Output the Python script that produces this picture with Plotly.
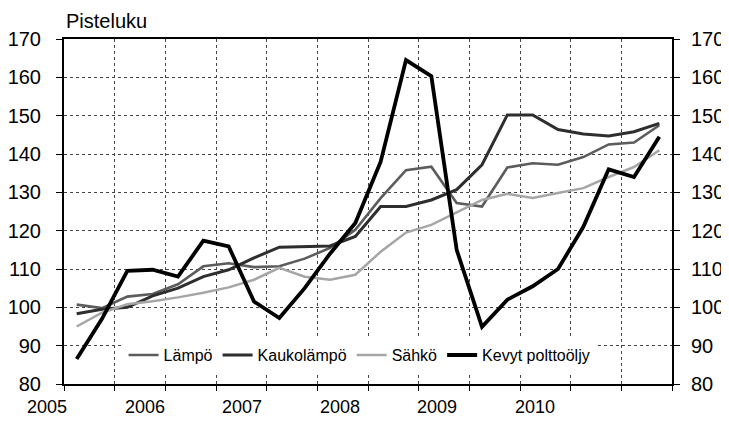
import plotly.graph_objects as go

quarters = [f"{y}Q{q}" for y in range(2005, 2011) for q in range(1, 5)]
years = ["2005", "2006", "2007", "2008", "2009", "2010"]

lampo = [100.7, 99.8, 102.8, 103.5, 106.0, 110.7, 111.5, 110.5, 110.7, 112.7, 115.5, 120.2,
         128.5, 135.8, 136.7, 127.2, 126.3, 136.5, 137.6, 137.2, 139.2, 142.5, 143.0, 147.5]
kaukolampo = [98.3, 99.5, 100.0, 103.0, 105.0, 108.0, 109.8, 112.9, 115.7, 115.8, 116.0, 118.5,
              126.3, 126.3, 128.0, 130.7, 137.2, 150.2, 150.2, 146.4, 145.2, 144.7, 145.8, 148.0]
sahko = [95.0, 98.6, 100.8, 101.6, 102.6, 103.8, 105.2, 107.2, 110.3, 108.0, 107.2, 108.5,
         114.5, 119.5, 121.5, 124.8, 128.0, 129.6, 128.5, 129.8, 131.1, 134.0, 136.6, 141.0]
kevyt = [86.5, 97.0, 109.5, 109.8, 108.0, 117.4, 115.9, 101.5, 97.2, 105.0, 114.0, 122.0,
         138.0, 164.5, 160.3, 115.0, 94.9, 102.0, 105.5, 110.0, 121.0, 136.0, 134.0, 144.5]

series = [
    ("Lämpö", lampo, "#5c5c5c", 2.6),
    ("Kaukolämpö", kaukolampo, "#2e2e2e", 3.0),
    ("Sähkö", sahko, "#a6a6a6", 2.5),
    ("Kevyt polttoöljy", kevyt, "#000000", 3.8),
]

FONT = "Liberation Sans, Arial, sans-serif"
xs = list(range(len(quarters)))

fig = go.Figure()
for name, vals, col, w in series:
    fig.add_trace(go.Scatter(x=xs, y=vals, name=name, mode="lines",
                             line=dict(color=col, width=w), text=quarters))
# empty trace so the right-hand value axis is drawn
fig.add_trace(go.Scatter(x=[], y=[], xaxis="x", yaxis="y2", showlegend=False,
                         hoverinfo="skip"))

# year labels (placed as in the original, offset from the quarter gridlines)
year_annotations = [
    dict(text=yr, xref="paper", yref="paper", x=-0.028 + i * 0.1605, y=0,
         xanchor="center", yanchor="middle", yshift=-23, showarrow=False,
         font=dict(size=18, family=FONT))
    for i, yr in enumerate(years)
]

fig.update_layout(
    width=721, height=418,
    margin=dict(l=56, r=57, t=31, b=42, autoexpand=False),
    paper_bgcolor="white", plot_bgcolor="white",
    font=dict(family=FONT, size=20, color="#000"),
    showlegend=True,
    legend=dict(orientation="h", x=0.098, y=0.133, xanchor="left", yanchor="top",
                bgcolor="white", font=dict(size=16, family=FONT), itemwidth=30,
                tracegroupgap=0),
    xaxis=dict(range=[-0.5, len(quarters) - 0.5], tickmode="linear", tick0=-0.5, dtick=2,
               showticklabels=False, ticks="outside", ticklen=5, tickcolor="#000",
               showgrid=True, gridcolor="#444", griddash="dot", gridwidth=1, automargin=False,
               showline=True, linecolor="#000", linewidth=2, mirror=True, zeroline=False),
    yaxis=dict(range=[80, 170], tickmode="linear", tick0=80, dtick=10, automargin=False,
               ticks="outside", ticklen=6, tickcolor="#000",
               showgrid=True, gridcolor="#444", griddash="dot", gridwidth=1,
               showline=True, linecolor="#000", linewidth=2, mirror=True, zeroline=False,
               ticklabelstandoff=11, tickfont=dict(size=20)),
    yaxis2=dict(overlaying="y", anchor="x", side="right", range=[80, 170], automargin=False,
                tickmode="linear", tick0=80, dtick=10, ticks="outside", ticklen=6,
                tickcolor="#000", showgrid=False, showline=True, linecolor="#000",
                linewidth=2, zeroline=False, ticklabelstandoff=7, tickfont=dict(size=20)),
    annotations=[dict(text="Pisteluku", xref="paper", yref="paper", x=0, y=1.0,
                      xanchor="left", yanchor="bottom", showarrow=False,
                      font=dict(size=20, family=FONT), yshift=5)] + year_annotations,
)

fig.write_html("out.html")
